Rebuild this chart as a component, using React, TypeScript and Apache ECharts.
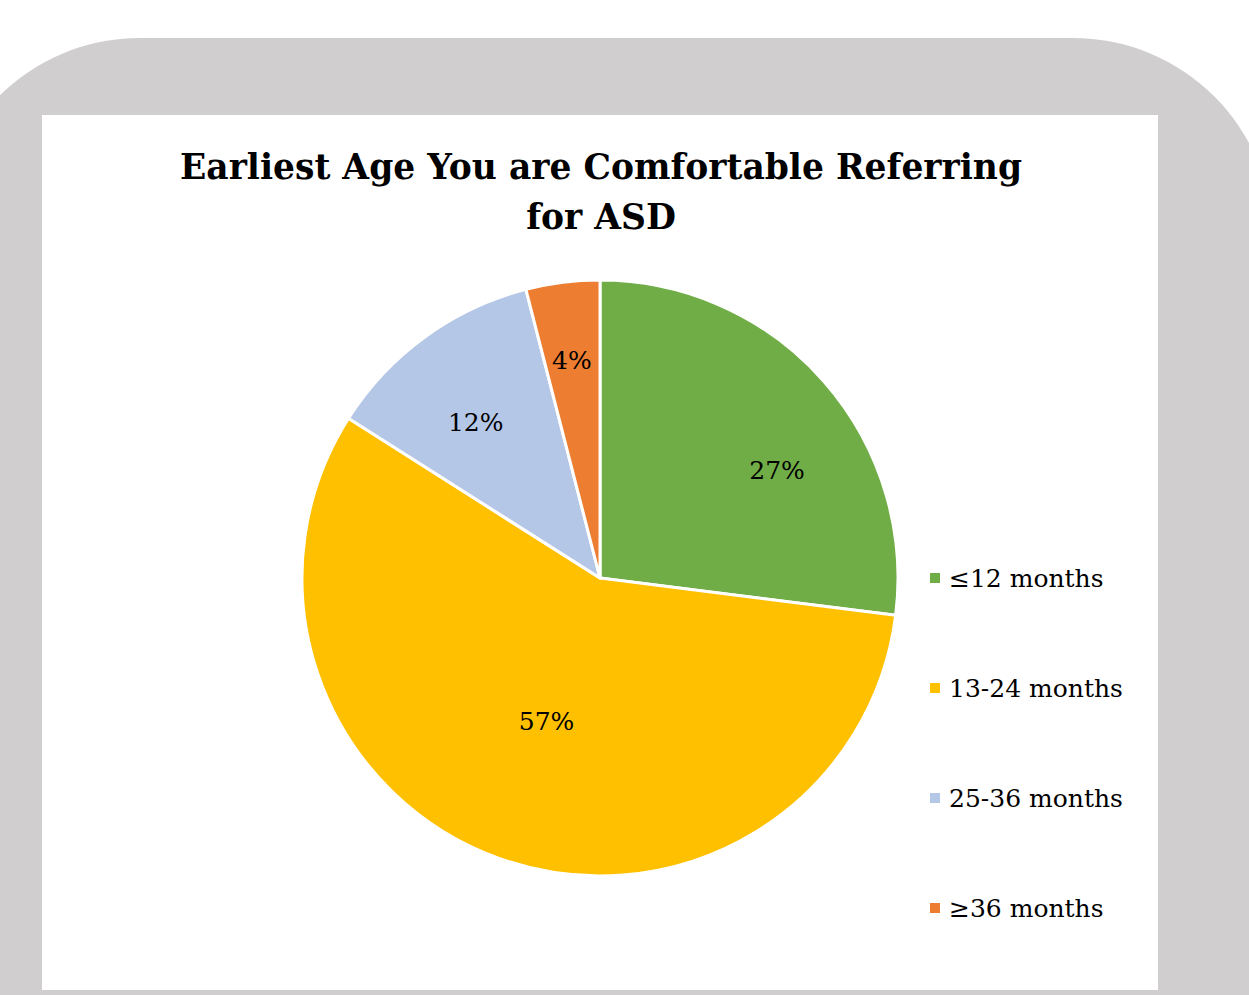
import React, { useEffect, useRef } from "react";
import * as echarts from "echarts";

const TITLE = "Earliest Age You are Comfortable Referring\nfor ASD";
const CATEGORIES = ["≤12 months", "13-24 months", "25-36 months", "≥36 months"];
const VALUES = [27, 57, 12, 4];
const COLORS = ["#70AD47", "#FFC000", "#B4C7E7", "#ED7D31"];
// label shifts from the default "inside" position (best-fit placement)
const LABEL_SHIFT: [number, number][] = [
  [63, -7],
  [-2, 0],
  [-35, -33],
  [-9, -67],
];

const FONT = "'DejaVu Serif', 'Liberation Serif', serif";

export default function App() {
  const ref = useRef<HTMLDivElement>(null);
  useEffect(() => {
    if (!ref.current) return;
    const chart = echarts.init(ref.current, undefined, { renderer: "svg" });
    chart.setOption({
      animation: false,
      backgroundColor: "#ffffff",
      graphic: [
        {
          type: "rect",
          z: -10,
          silent: true,
          shape: { x: -60, y: 38, width: 1333, height: 1300, r: 200 },
          style: { fill: "#D0CECF" },
        },
        {
          type: "rect",
          z: -9,
          silent: true,
          shape: { x: 42, y: 115, width: 1116, height: 875 },
          style: { fill: "#ffffff" },
        },
      ],
      title: {
        text: TITLE,
        left: 596,
        top: 137,
        textAlign: "center",
        textStyle: {
          fontFamily: FONT,
          fontWeight: "bold",
          fontSize: 34.5,
          lineHeight: 50,
          color: "#000000",
        },
      },
      legend: {
        orient: "vertical",
        left: 928,
        top: 563,
        padding: 0,
        itemWidth: 12,
        itemHeight: 12,
        itemGap: 80,
        icon: "rect",
        data: CATEGORIES,
        textStyle: {
          fontFamily: FONT,
          fontSize: 25,
          lineHeight: 30,
          color: "#000000",
          padding: [0, 0, 0, 3],
        },
      },
      series: [
        {
          type: "pie",
          center: [600, 578],
          radius: 298,
          startAngle: 90,
          clockwise: true,
          avoidLabelOverlap: false,
          itemStyle: { borderColor: "#ffffff", borderWidth: 3 },
          label: {
            show: true,
            position: "inside",
            formatter: "{d}%",
            fontFamily: FONT,
            fontSize: 25,
            color: "#000000",
          },
          labelLine: { show: false },
          labelLayout: (p: any) => {
            const s = LABEL_SHIFT[p.dataIndex] || [0, 0];
            return { dx: s[0], dy: s[1] };
          },
          emphasis: { disabled: true },
          data: CATEGORIES.map((name, i) => ({
            name,
            value: VALUES[i],
            itemStyle: { color: COLORS[i] },
          })),
        },
      ],
    });
    return () => chart.dispose();
  }, []);
  return (
    <div
      ref={ref}
      style={{ position: "fixed", left: 0, top: 0, width: 1249, height: 995 }}
    />
  );
}
